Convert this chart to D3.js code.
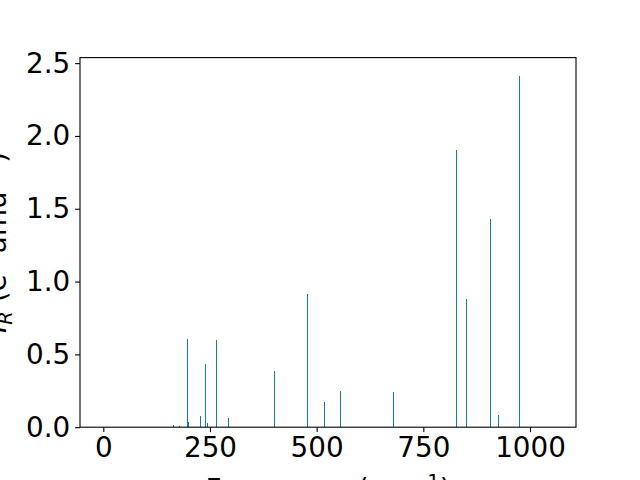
<!DOCTYPE html>
<html>
<head>
<meta charset="utf-8">
<script src="https://cdn.jsdelivr.net/npm/d3@7"></script>
<style>
  html, body { margin: 0; padding: 0; background: #fff; overflow: hidden; }
  svg { display: block; }
  text { font-family: "DejaVu Sans", sans-serif; }
</style>
</head>
<body>
<script>
// Data
const frequencies = [164, 178, 197, 199, 227, 239, 244, 265, 293, 401, 478, 518, 555, 680, 827, 851, 907, 926, 975];
const intensities = [0.015, 0.008, 0.606, 0.036, 0.077, 0.434, 0.029, 0.599, 0.063, 0.386, 0.915, 0.173, 0.249, 0.242, 1.904, 0.880, 1.430, 0.084, 2.415];
const xTicks = [0, 250, 500, 750, 1000];
const yTicks = [0, 0.5, 1.0, 1.5, 2.0, 2.5];

(function () {
const W = 640, H = 480;
const mLeft = 80, mRight = 576, mTop = 57.6, mBottom = 427.2;
const fontSize = 27.8;
const barColor = "#1f77b4";

const svg = d3.select("body").append("svg").attr("width", W).attr("height", H);

const x = d3.scaleLinear().domain([-54.6, 1107.8]).range([mLeft, mRight]);
const y = d3.scaleLinear().domain([0, 2.538]).range([mBottom, mTop]);

const data = frequencies.map((f, i) => ({ f, v: intensities[i] }));

// bars
const barW = 2.4; // data units
svg.append("g").selectAll("rect").data(data).enter().append("rect")
  .attr("x", d => x(d.f - barW / 2))
  .attr("width", d => Math.max(1, x(d.f + barW / 2) - x(d.f - barW / 2)))
  .attr("y", d => y(d.v))
  .attr("height", d => y(0) - y(d.v))
  .attr("fill", barColor)
  .attr("shape-rendering", "crispEdges");

// axes
const xAxis = d3.axisBottom(x).tickValues(xTicks).tickFormat(d3.format("d"))
  .tickSize(4.9).tickPadding(4.9);
const yAxis = d3.axisLeft(y).tickValues(yTicks).tickFormat(d3.format(".1f"))
  .tickSize(4.9).tickPadding(4.9);

const gx = svg.append("g").attr("transform", `translate(0,${mBottom})`).call(xAxis);
const gy = svg.append("g").attr("transform", `translate(${mLeft},0)`).call(yAxis);
[gx, gy].forEach(g => {
  g.select(".domain").remove();
  g.selectAll(".tick line").attr("stroke", "#000").attr("stroke-width", 1.1);
  g.selectAll(".tick text").attr("fill", "#000")
    .style("font-size", fontSize + "px").style("font-family", "DejaVu Sans");
});

// frame
svg.append("rect").attr("x", mLeft).attr("y", mTop)
  .attr("width", mRight - mLeft).attr("height", mBottom - mTop)
  .attr("fill", "none").attr("stroke", "#000").attr("stroke-width", 1.1);

// x label
const xl = svg.append("text")
  .attr("x", (mLeft + mRight) / 2).attr("y", 499)
  .attr("text-anchor", "middle")
  .style("font-size", fontSize + "px").attr("fill", "#000");
xl.append("tspan").text("Frequency (cm");
xl.append("tspan").attr("dy", -11).style("font-size", (fontSize * 0.7) + "px").text("\u22121");
xl.append("tspan").attr("dy", 11).text(")");

// y label (rotated)
const yl = svg.append("text")
  .attr("transform", `translate(6,${(mTop + mBottom) / 2}) rotate(-90)`)
  .attr("text-anchor", "middle")
  .style("font-size", fontSize + "px").attr("fill", "#000");
yl.append("tspan").style("font-style", "italic").text("I");
yl.append("tspan").attr("dy", 6).style("font-size", (fontSize * 0.7) + "px").style("font-style", "italic").text("R");
yl.append("tspan").attr("dy", -6).text(" (e");
yl.append("tspan").attr("dy", -11).style("font-size", (fontSize * 0.7) + "px").text("2");
yl.append("tspan").attr("dy", 11).text(" amu");
yl.append("tspan").attr("dy", -11).style("font-size", (fontSize * 0.7) + "px").text("\u22121");
yl.append("tspan").attr("dy", 11).text(")");
})();
</script>
</body>
</html>
